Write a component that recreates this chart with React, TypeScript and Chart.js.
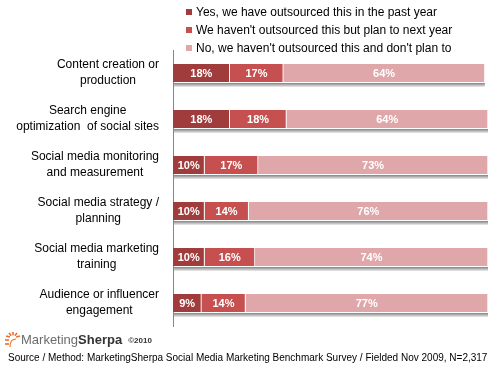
import React, { useEffect, useRef } from "react";
import { Chart, registerables } from "chart.js";

Chart.register(...registerables);

const categories: string[][] = [
  ["Content creation or", "production"],
  ["Search engine", "optimization  of social sites"],
  ["Social media monitoring", "and measurement"],
  ["Social media strategy /", "planning"],
  ["Social media marketing", "training"],
  ["Audience or influencer", "engagement"],
];
const seriesNames = [
  "Yes, we have outsourced this in the past year",
  "We haven't outsourced this but plan to next year",
  "No, we haven't outsourced this and don't plan to",
];
const pastYear = [18, 18, 10, 10, 10, 9];
const nextYear = [17, 18, 17, 14, 16, 14];
const noPlan = [64, 64, 73, 76, 74, 77];
const colors = ["#A13C3D", "#C5504F", "#E0A7AA"];
const sourceText =
  "Source / Method: MarketingSherpa Social Media Marketing Benchmark Survey / Fielded Nov 2009, N=2,317";

const FONT = "'Liberation Sans', Arial, sans-serif";

const customPlugin = {
  id: "custom",
  beforeDatasetsDraw(chart: any) {
    const ctx = chart.ctx;
    const metas = chart.data.datasets.map((_: any, i: number) => chart.getDatasetMeta(i));
    ctx.save();
    const n = chart.data.labels.length;
    for (let i = 0; i < n; i++) {
      const first = metas[0].data[i];
      const last = metas[metas.length - 1].data[i];
      const x0 = Math.min(first.base, first.x);
      const x1 = last.x;
      const yb = Math.round(first.y + first.height / 2);
      const shades = ["#8f8f8f", "#a9a9a9", "#c4c4c4", "#e0e0e0"];
      shades.forEach((c, k) => {
        ctx.fillStyle = c;
        ctx.fillRect(x0 + 1, yb + 1 + k, x1 - x0 - 1, 1);
      });
    }
    ctx.restore();
  },
  afterDatasetsDraw(chart: any) {
    const ctx = chart.ctx;
    ctx.save();
    // value labels
    ctx.font = `bold 11px ${FONT}`;
    ctx.fillStyle = "#ffffff";
    ctx.textAlign = "center";
    ctx.textBaseline = "middle";
    chart.data.datasets.forEach((ds: any, di: number) => {
      const meta = chart.getDatasetMeta(di);
      meta.data.forEach((bar: any, i: number) => {
        const cx = (bar.x + bar.base) / 2;
        ctx.fillText(ds.data[i] + "%", cx, bar.y + 1);
      });
    });
    // category labels: block right-aligned, lines centred within block
    const yScale = chart.scales.y;
    ctx.font = `12px ${FONT}`;
    ctx.fillStyle = "#000000";
    const right = 159;
    const lh = 16;
    chart.data.labels.forEach((lab: string[], i: number) => {
      const y = yScale.getPixelForValue(i);
      const w = Math.max(...lab.map((l) => ctx.measureText(l).width));
      const cx = right - w / 2;
      const top = y - ((lab.length - 1) * lh) / 2;
      lab.forEach((l, k) => {
        ctx.fillText(l, cx, top + k * lh);
      });
    });
    // legend
    ctx.textAlign = "left";
    ctx.font = `12px ${FONT}`;
    chart.data.datasets.forEach((ds: any, di: number) => {
      const y = 12 + di * 18;
      ctx.fillStyle = ds.backgroundColor;
      ctx.fillRect(186, y - 3, 6, 6);
      ctx.fillStyle = "#000000";
      ctx.fillText(ds.label, 196, y + 1);
    });
    ctx.restore();
  },
};

export default function App() {
  const ref = useRef<HTMLCanvasElement | null>(null);
  useEffect(() => {
    if (!ref.current) return;
    const chart = new Chart(ref.current, {
      type: "bar",
      data: {
        labels: categories as any,
        datasets: [pastYear, nextYear, noPlan].map((d, i) => ({
          label: seriesNames[i],
          data: d,
          backgroundColor: colors[i],
          borderColor: "#ffffff",
          borderWidth: { top: 0, bottom: 0, left: 0, right: 1 },
          borderSkipped: false,
          barThickness: 18,
        })),
      },
      options: {
        indexAxis: "y",
        animation: false,
        responsive: false,
        devicePixelRatio: 1,
        layout: { padding: { left: 0, top: 50, right: 2, bottom: 43 } },
        plugins: {
          legend: { display: false },
          tooltip: { enabled: false },
        },
        scales: {
          x: {
            stacked: true,
            min: 0,
            max: 100,
            display: false,
          },
          y: {
            stacked: true,
            grid: { display: false, drawTicks: false },
            border: { display: true, color: "#868686", width: 1 },
            ticks: { display: false },
            afterFit: (scale: any) => {
              scale.width = 173;
            },
          },
        },
      },
      plugins: [customPlugin],
    } as any);
    return () => chart.destroy();
  }, []);

  return (
    <div style={{ position: "absolute", left: 0, top: 0, width: 490, height: 369, background: "#fff" }}>
      <canvas ref={ref} width={490} height={369} style={{ position: "absolute", left: 0, top: 0 }} />
      <div style={{ position: "absolute", left: 4, top: 330, height: 18, display: "flex", alignItems: "flex-end" }}>
        <svg width="18" height="18" viewBox="0 0 18 18">
          {[
            [9, 8, 9, 2],
            [9, 8, 13, 3],
            [9, 8, 16, 6],
            [9, 8, 5, 3],
            [9, 8, 2, 6],
          ].map((l, k) => (
            <line key={k} x1={l[0] + (l[2] - l[0]) * 0.45} y1={l[1] + (l[3] - l[1]) * 0.45} x2={l[2]} y2={l[3]} stroke="#E8702A" strokeWidth={1.6} />
          ))}
          <line x1="1" y1="10" x2="5" y2="10" stroke="#E8702A" strokeWidth={1.6} />
          <line x1="1" y1="14" x2="5" y2="14" stroke="#E8702A" strokeWidth={1.6} />
          <path d="M6 17 Q6 9 12 9" fill="none" stroke="#E8702A" strokeWidth={1.2} />
        </svg>
        <span style={{ fontFamily: FONT, fontSize: 13, color: "#6b6b6b", lineHeight: "16px", marginLeft: -1 }}>Marketing</span>
        <span style={{ fontFamily: FONT, fontSize: 13, fontWeight: "bold", color: "#333", lineHeight: "16px" }}>Sherpa</span>
        <span style={{ fontFamily: FONT, fontSize: 8, fontWeight: "bold", color: "#333", lineHeight: "14px", marginLeft: 6 }}>©2010</span>
      </div>
      <div style={{ position: "absolute", left: 8, top: 351, fontFamily: FONT, fontSize: 10, color: "#000", whiteSpace: "nowrap", lineHeight: "13px" }}>
        {sourceText}
      </div>
    </div>
  );
}
